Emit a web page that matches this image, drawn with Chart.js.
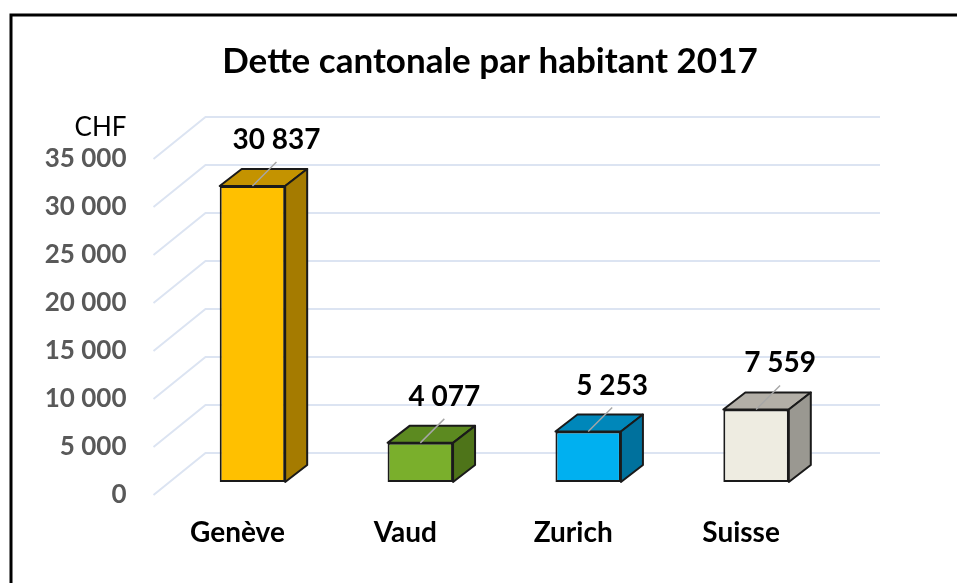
<!DOCTYPE html>
<html lang="fr">
  <head>
    <meta charset="UTF-8" />
    <title>Dette cantonale par habitant 2017</title>
    <script src="https://cdn.jsdelivr.net/npm/chart.js"></script>
    <style>
      body { margin: 0; background: #fff; }
    </style>
  </head>
  <body>
    <canvas id="myChart" width="957" height="583"></canvas>

    <script>
      const categories = ["Genève", "Vaud", "Zurich", "Suisse"];
      const debtPerCapita = [30837, 4077, 5253, 7559];
      const frontColors = ["#ffc000", "#7aaf2c", "#00b0f0", "#eeece1"];
      const topColors = ["#c49300", "#5c8a20", "#0087ba", "#b3afa7"];
      const sideColors = ["#a57b00", "#4e7419", "#00719d", "#9a9891"];
      const yMax = 35000;
      const yStep = 5000;
      const chartTitle = "Dette cantonale par habitant 2017";

      // 3d look
      const DX = 22, DY = -17;
      const fmt = (v) => String(v).replace(/\B(?=(\d{3})+(?!\d))/g, " ");

      const box3d = {
        id: "box3d",
        beforeDraw(chart) {
          const ctx = chart.ctx;
          ctx.save();
          ctx.strokeStyle = "#000";
          ctx.lineWidth = 3;
          ctx.beginPath();
          ctx.moveTo(11, chart.height);
          ctx.lineTo(11, 15);
          ctx.lineTo(chart.width, 15);
          ctx.stroke();
          // title, centred on the whole frame
          ctx.fillStyle = "#000";
          ctx.font = "bold 35px Lato";
          ctx.textAlign = "center";
          ctx.textBaseline = "middle";
          ctx.fillText(chartTitle, (11 + chart.width) / 2 + 6, 62);
          ctx.restore();
        },
        beforeDatasetsDraw(chart) {
          const ctx = chart.ctx;
          const area = chart.chartArea;
          const y = chart.scales.y;
          ctx.save();
          ctx.strokeStyle = "#dce4f2";
          ctx.lineWidth = 2;
          for (let v = 0; v <= yMax; v += yStep) {
            const py = y.getPixelForValue(v);
            ctx.beginPath();
            ctx.moveTo(area.left - 15, py + 13);
            ctx.lineTo(area.left + 37, py - 29);
            ctx.lineTo(area.right + 40, py - 29);
            ctx.stroke();
          }
          // CHF unit
          ctx.fillStyle = "#000";
          ctx.font = "26px Lato";
          ctx.textAlign = "right";
          ctx.textBaseline = "middle";
          ctx.fillText("CHF", y.right - 42, y.getPixelForValue(yMax) - 18);
          ctx.restore();
        },
        afterDatasetsDraw(chart) {
          const ctx = chart.ctx;
          const bars = chart.getDatasetMeta(0).data;
          ctx.save();
          ctx.lineJoin = "round";
          bars.forEach((bar, i) => {
            const l = bar.x - bar.width / 2;
            const r = bar.x + bar.width / 2;
            const t = bar.y;
            const b = bar.base;
            ctx.lineWidth = 2;
            ctx.strokeStyle = "#1a1a1a";
            ctx.fillStyle = topColors[i];
            ctx.beginPath();
            ctx.moveTo(l, t);
            ctx.lineTo(l + DX, t + DY);
            ctx.lineTo(r + DX, t + DY);
            ctx.lineTo(r, t);
            ctx.closePath();
            ctx.fill();
            ctx.stroke();
            ctx.fillStyle = sideColors[i];
            ctx.beginPath();
            ctx.moveTo(r, t);
            ctx.lineTo(r + DX, t + DY);
            ctx.lineTo(r + DX, b + DY);
            ctx.lineTo(r, b);
            ctx.closePath();
            ctx.fill();
            ctx.stroke();

            // data label with leader line
            const lx = bar.x + 24;
            const ly = t - 46;
            ctx.strokeStyle = "#a6a6a6";
            ctx.lineWidth = 1.5;
            ctx.beginPath();
            ctx.moveTo(bar.x, t);
            ctx.lineTo(lx, ly + 22);
            ctx.stroke();
            ctx.fillStyle = "#000";
            ctx.font = "bold 28px Lato";
            ctx.textAlign = "center";
            ctx.textBaseline = "middle";
            ctx.fillText(fmt(debtPerCapita[i]), lx, ly);
          });
          ctx.restore();
        },
      };

      const ctx = document.getElementById("myChart").getContext("2d");
      const myChart = new Chart(ctx, {
        type: "bar",
        data: {
          labels: categories,
          datasets: [
            {
              label: "Dette par habitant",
              data: debtPerCapita,
              backgroundColor: frontColors,
              borderColor: "#1a1a1a",
              borderWidth: 2,
              borderSkipped: false,
              barPercentage: 0.39,
              categoryPercentage: 1,
            },
          ],
        },
        options: {
          responsive: false,
          animation: false,
          layout: { padding: { left: 12, right: 117, top: 146, bottom: 0 } },
          plugins: {
            legend: { display: false },
            tooltip: { enabled: false },
            title: { display: false },
          },
          scales: {
            x: {
              afterFit: (scale) => {
                scale.height = 101;
                scale.paddingLeft = 0;
                scale.paddingRight = 0;
              },
              grid: { display: false, drawTicks: false },
              border: { display: false },
              ticks: {
                color: "#000",
                font: { family: "Lato", size: 28, weight: "bold" },
                padding: 34,
                labelOffset: -15,
              },
            },
            y: {
              min: 0,
              max: yMax,
              afterFit: (scale) => {
                scale.width = 156.5;
                scale.paddingTop = 0;
                scale.paddingBottom = 0;
              },
              grid: { display: false, drawTicks: false },
              border: { display: false },
              ticks: {
                stepSize: yStep,
                color: "#595959",
                font: { family: "Lato", size: 26, weight: "bold" },
                padding: 42,
                labelOffset: 13,
                callback: (v) => fmt(v),
              },
            },
          },
        },
        plugins: [box3d],
      });
    </script>
  </body>
</html>
